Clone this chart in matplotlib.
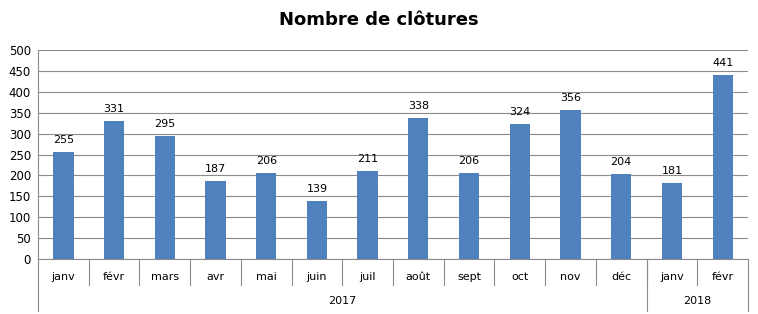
import numpy as np
import matplotlib.pyplot as plt
from matplotlib.transforms import blended_transform_factory

# données
mois = ['janv', 'févr', 'mars', 'avr', 'mai', 'juin', 'juil', 'août',
        'sept', 'oct', 'nov', 'déc', 'janv', 'févr']
annees = ['2017', '2018']
mois_par_annee = [12, 2]
clotures = [255, 331, 295, 187, 206, 139, 211, 338, 206, 324, 356, 204, 181, 441]

plt.rcParams['font.family'] = ['DejaVu Sans']

fig = plt.figure(figsize=(7.58, 3.14), dpi=100)
ax = fig.add_axes([38 / 758, 1 - 259 / 314, 710 / 758, 209 / 314])

x = np.arange(len(mois))
ax.bar(x, clotures, width=0.4, color='#4F81BD', zorder=3)

for xi, v in zip(x, clotures):
    ax.annotate(str(v), (xi, v), xytext=(0, 5), textcoords='offset points',
                ha='center', va='bottom', fontsize=8)

ax.set_xlim(-0.5, len(mois) - 0.5)
ax.set_ylim(0, 500)
ax.set_yticks(np.arange(0, 501, 50))
ax.yaxis.grid(True, color='#8c8c8c', lw=0.8, zorder=0)
ax.tick_params(axis='y', length=0, labelsize=8.5, pad=5)
ax.set_xticks([])

for s in ['top', 'right']:
    ax.spines[s].set_visible(False)
ax.spines['left'].set_color('#8c8c8c')
ax.spines['bottom'].set_color('#8c8c8c')

trans = blended_transform_factory(ax.transData, ax.transAxes)

# étiquettes des mois et séparateurs
for i, m in enumerate(mois):
    ax.text(i, -0.085, m, transform=trans, ha='center', va='center', fontsize=8)
for b in range(1, len(mois)):
    ax.plot([b - 0.5, b - 0.5], [0, -0.125], transform=trans,
            color='#8c8c8c', lw=0.8, clip_on=False)

# étiquettes des années
debut = 0
bornes = [-0.5]
for a, n in zip(annees, mois_par_annee):
    ax.text(debut + (n - 1) / 2, -0.2, a, transform=trans, ha='center',
            va='center', fontsize=8)
    debut += n
    bornes.append(debut - 0.5)
for b in bornes:
    ax.plot([b, b], [0, -0.25], transform=trans, color='#8c8c8c', lw=0.8,
            clip_on=False)

fig.suptitle('Nombre de clôtures', fontsize=13, fontweight='bold', y=0.965)

fig.savefig('out.png', dpi=100)
